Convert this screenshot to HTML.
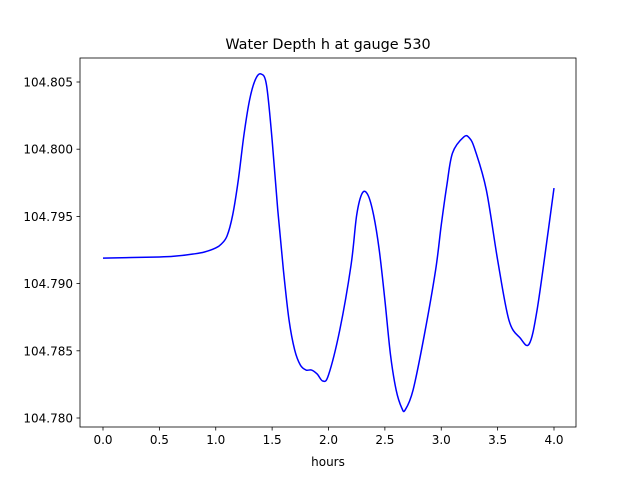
<!DOCTYPE html>
<html><head><meta charset="utf-8"><style>
body{margin:0;background:#fff;}
svg text{font-family:"DejaVu Sans","Liberation Sans",sans-serif;fill:#000;}
</style></head><body>
<svg id="chart" width="640" height="480" xmlns="http://www.w3.org/2000/svg">
<rect width="640" height="480" fill="#fff"/>
<text x="328" y="49" font-size="14.4" text-anchor="middle">Water Depth h at gauge 530</text>
<g id="axes"></g>
<text x="328" y="466" font-size="12" text-anchor="middle">hours</text>
</svg>
<script>
const hours=[0,0.5,0.65,0.8,0.9,1.0,1.05,1.1,1.15,1.2,1.25,1.3,1.35,1.4,1.45,1.5,1.55,1.6,1.65,1.7,1.75,1.8,1.85,1.9,1.95,2.0,2.1,2.2,2.25,2.3,2.35,2.4,2.45,2.5,2.55,2.6,2.65,2.68,2.75,2.85,2.95,3.0,3.05,3.1,3.2,3.25,3.3,3.4,3.5,3.6,3.7,3.78,3.85,3.95,4.0];
const depth=[104.79190,104.79198,104.79205,104.79220,104.79235,104.79265,104.79295,104.79354,104.79510,104.79771,104.80106,104.80366,104.80515,104.80560,104.80478,104.80068,104.79548,104.79101,104.78729,104.78506,104.78394,104.78357,104.78357,104.78327,104.78275,104.78320,104.78655,104.79138,104.79510,104.79674,104.79659,104.79510,104.79250,104.78878,104.78469,104.78208,104.78074,104.78060,104.78208,104.78618,104.79101,104.79436,104.79734,104.79972,104.80091,104.80083,104.79994,104.79696,104.79176,104.78729,104.78595,104.78551,104.78804,104.79399,104.79711];
const xTicks=[0,0.5,1,1.5,2,2.5,3,3.5,4];
const xTickLabels=["0.0","0.5","1.0","1.5","2.0","2.5","3.0","3.5","4.0"];
const yTicks=[104.780,104.785,104.790,104.795,104.800,104.805];
const yTickLabels=["104.780","104.785","104.790","104.795","104.800","104.805"];
const L=80,R=576,T=58,B=427;
const xs=v=>103+(v-0)*(554-103)/4;
const ys=v=>418-(v-104.780)*(418-82)/0.025;
const NS="http://www.w3.org/2000/svg";
const g=document.getElementById('axes');
function mk(t,a){const e=document.createElementNS(NS,t);for(const k in a)e.setAttribute(k,a[k]);g.appendChild(e);return e;}
const frame=mk('rect',{x:L,y:T,width:R-L,height:B-T,fill:'none',stroke:'#000','stroke-width':0.8});


xTicks.forEach((v,i)=>{
  const t=mk('line',{x1:xs(v),x2:xs(v),y1:B,y2:B+3.5,stroke:'#000','stroke-width':0.8});
  
  
  const l=mk('text',{x:xs(v),y:B+17,'font-size':12,'text-anchor':'middle'});
  l.textContent=xTickLabels[i];
  
  
});
yTicks.forEach((v,i)=>{
  const t=mk('line',{x1:L-3.5,x2:L,y1:ys(v),y2:ys(v),stroke:'#000','stroke-width':0.8});
  
  
  const l=mk('text',{x:L-7,y:ys(v)+4.5,'font-size':12,'text-anchor':'end'});
  l.textContent=yTickLabels[i];
  
  
});
const pts=hours.map((h,i)=>[xs(h),ys(depth[i])]);
let d='M'+pts[0][0]+','+pts[0][1];
for(let i=0;i<pts.length-1;i++){
  const p0=pts[i-1]||pts[i],p1=pts[i],p2=pts[i+1],p3=pts[i+2]||p2;
  const c1=[p1[0]+(p2[0]-p0[0])/6,p1[1]+(p2[1]-p0[1])/6];
  const c2=[p2[0]-(p3[0]-p1[0])/6,p2[1]-(p3[1]-p1[1])/6];
  d+=' C'+c1+' '+c2+' '+p2;
}
const line=mk('path',{d:d,fill:'none',stroke:'#0000ff','stroke-width':1.5});


</script>
</body></html>
